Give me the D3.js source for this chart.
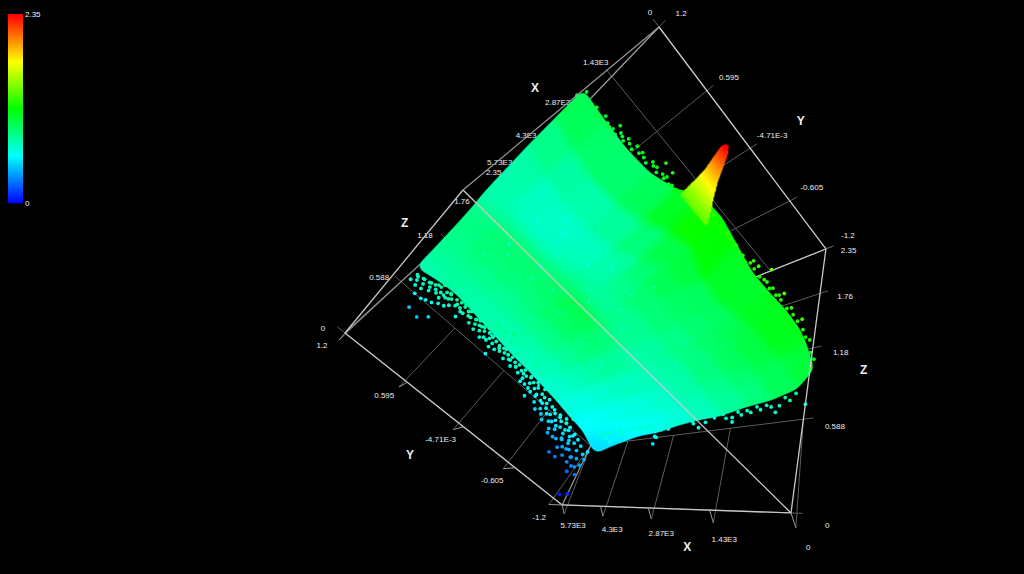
<!DOCTYPE html>
<html>
<head>
<meta charset="utf-8">
<script src="https://cdn.jsdelivr.net/npm/d3@7"></script>
<style>
  html, body { margin: 0; padding: 0; background: #000; }
  svg { display: block; }
  text { font-family: "Liberation Sans", Arial, sans-serif; }
</style>
</head>
<body>
<svg width="1024" height="574"></svg>
<script>
// axis ticks and their labels
const xTicks = [0, 1433, 2865, 4298, 5730];
const xTickLabels = ["0", "1.43E3", "2.87E3", "4.3E3", "5.73E3"];
const yTicks = [1.2, 0.595, -0.00471, -0.605, -1.2];
const yTickLabels = ["1.2", "0.595", "-4.71E-3", "-0.605", "-1.2"];
const zTicks = [0, 0.588, 1.18, 1.76, 2.35];
const zTickLabels = ["0", "0.588", "1.18", "1.76", "2.35"];

// height samples of the surface, one row per x, one column per y
const gridX = [-40, 478, 955, 1433, 1910, 2388, 2865, 3343, 3820, 4298, 4775, 5253, 5550];
const gridY = [1.2, 1.0, 0.8, 0.6, 0.4, 0.2, 0, -0.2, -0.4, -0.6, -0.8, -1.0, -1.1];
// where each row of the solid cloud ends on the low y side
const rowEndY = [-1.22, -1.36, -1.34, -1.3, -1.26, -1.22, -1.2, -1.18, -1.16, -1.16, -1.16, -1.18, -1.2];
const gridZ = [
  [1.05, 1.02, 1.0, 1.02, 1.12, 1.3, 1.32, 1.25, 1.18, 1.18, 1.2, 1.18, 1.12, 1.0],
  [0.96, 0.88, 0.84, 0.85, 0.92, 1.05, 1.12, 0.98, 0.95, 1.0, 1.05, 1.05, 1.06, 0.98],
  [0.85, 0.76, 0.72, 0.72, 0.76, 0.86, 1.02, 1.0, 0.92, 0.94, 1.0, 0.98, 0.95, 0.9],
  [0.82, 0.74, 0.7, 0.72, 0.74, 0.8, 0.94, 0.98, 0.9, 0.9, 0.94, 0.92, 0.88, 0.84],
  [0.78, 0.76, 0.72, 0.74, 0.78, 0.8, 0.84, 0.88, 0.84, 0.82, 0.85, 0.82, 0.78, 0.76],
  [0.78, 0.8, 0.8, 0.8, 0.84, 0.84, 0.82, 0.84, 0.8, 0.76, 0.76, 0.72, 0.7, 0.72],
  [0.84, 0.88, 0.9, 0.9, 0.9, 0.92, 0.92, 0.88, 0.82, 0.76, 0.7, 0.66, 0.62, 0.68],
  [0.86, 0.9, 0.92, 0.92, 0.92, 0.98, 1.02, 0.95, 0.88, 0.78, 0.7, 0.64, 0.6, 0.62],
  [0.86, 0.9, 0.92, 0.9, 0.9, 0.95, 1.0, 0.95, 0.86, 0.76, 0.68, 0.62, 0.58, 0.6],
  [0.84, 0.88, 0.88, 0.86, 0.86, 0.88, 0.92, 0.9, 0.8, 0.72, 0.66, 0.6, 0.56, 0.56],
  [0.82, 0.85, 0.84, 0.8, 0.8, 0.82, 0.84, 0.82, 0.76, 0.7, 0.62, 0.56, 0.54, 0.52],
  [0.78, 0.8, 0.78, 0.76, 0.76, 0.76, 0.74, 0.72, 0.7, 0.68, 0.62, 0.56, 0.52, 0.48],
  [0.74, 0.78, 0.8, 0.78, 0.76, 0.74, 0.72, 0.71, 0.69, 0.67, 0.64, 0.62, 0.58, 0.54],
];

// the spike near x = 400: one list of y per height
const peakX = 400;
const peakZ = [1.41, 1.47, 1.53, 1.59, 1.645, 1.7, 1.76, 1.82, 1.88, 1.94, 2.0, 2.06, 2.115, 2.17, 2.23, 2.29, 2.35];
const peakY = [
  [-0.01, 0.03, 0.065, 0.1, 0.135, 0.17, 0.205, 0.25],
  [0, 0.035, 0.07, 0.105, 0.135, 0.17, 0.205, 0.24],
  [0.01, 0.045, 0.08, 0.12, 0.16, 0.195, 0.23],
  [0.02, 0.055, 0.09, 0.12, 0.15, 0.185, 0.22],
  [0.033, 0.07, 0.105, 0.135, 0.17, 0.207],
  [0.042, 0.08, 0.12, 0.16, 0.198],
  [0.05, 0.085, 0.12, 0.155, 0.19],
  [0.06, 0.09, 0.12, 0.15, 0.18],
  [0.068, 0.1, 0.14, 0.172],
  [0.072, 0.105, 0.135, 0.168],
  [0.077, 0.12, 0.163],
  [0.081, 0.12, 0.159],
  [0.085, 0.12, 0.155],
  [0.09, 0.12, 0.15],
  [0.094, 0.146],
  [0.1, 0.14],
  [0.12],
];

// stray points along x = 5730 (low side of the cloud)
const farY = [1.161, 1.1, 1.134, 1.045, 1.079, 0.986, 1.016, 0.927, 0.957, 0.867, 0.918, 1.052, 0.986, 0.948, 1.003, 0.9, 0.831, 0.897, 0.85, 0.8, 0.813, 0.828, 0.726, 0.656, 0.743, 0.661, 0.659,
  0.576, 0.598, 0.492, 0.414, 0.463, 0.432, 0.35, 0.306, 0.268, 0.302, 0.185, 0.206, 0.16, 0.096, 0.101, 0.119, 0.372, 0.249, 0.231,
  0.003, -0.08, -0.026, -0.184, -0.197, -0.142, -0.268, -0.301, -0.314, -0.234, -0.359, -0.408, -0.325, -0.458, -0.507, -0.554, -0.475,
  -0.605, -0.556, -0.542, -0.691, -0.658, -0.625, -0.715, -0.712, -0.778, -0.753, -0.749, -0.82, -0.786, -0.875, -0.87, -0.862, -0.898, -0.888, -0.961, -0.968, -0.954, -0.969, -0.822, -0.901, -1.039, -1.05, -1.086, -1.101, -1.178, -1.124, -1.2,
  1.15, 1.12, 1.09, 1.06, 1.03, 1.0, 0.98, 0.95, 0.93, 0.9, 0.88, 0.86, 0.84, 0.82, 0.79, 0.77, 0.75, 0.72, 0.7, 0.68, 0.65, 0.63, 0.6, 0.58, 0.55, 0.53, 0.5, 0.48, 0.46, 0.44, 0.41, 0.39, 0.37, 0.34, 0.32, 0.29, 0.27, 0.24, 0.22, 0.19, 0.17, 0.14, 0.12, 0.09, 0.07, 0.05, 0.02, 0,
  -0.03, -0.05, -0.08, -0.1, -0.13, -0.15, -0.18, -0.2, -0.22, -0.25, -0.27, -0.29, -0.32, -0.34, -0.36, -0.39, -0.41, -0.43, -0.46, -0.48, -0.5, -0.52, -0.55, -0.57, -0.59, -0.62, -0.64, -0.66, -0.68, -0.7, -0.72, -0.74, -0.76, -0.78, -0.8, -0.82, -0.84, -0.86, -0.88, -0.9, -0.92, -0.94, -0.96, -0.98, -1.0, -1.02, -1.04, -1.06, -1.08, -1.1, -1.12, -1.14, -1.16, -1.18, -1.2, -1.2];
const farZ = [0.658, 0.647, 0.719, 0.657, 0.742, 0.688, 0.759, 0.718, 0.79, 0.748, 0.828, 0.588, 0.59, 0.608, 0.466, 0.445, 0.51, 0.625, 0.658, 0.675, 0.752, 0.808, 0.746, 0.735, 0.858, 0.825, 0.672,
  0.756, 0.841, 0.786, 0.766, 0.693, 0.837, 0.804, 0.696, 0.791, 0.877, 0.82, 0.884, 0.721, 0.759, 0.85, 0.92, 0.674, 0.664, 0.594,
  0.704, 0.691, 0.806, 0.69, 0.613, 0.784, 0.72, 0.613, 0.535, 0.806, 0.72, 0.6, 0.806, 0.713, 0.593, 0.506, 0.504,
  0.543, 0.666, 0.743, 0.517, 0.623, 0.73, 0.71, 0.411, 0.413, 0.513, 0.603, 0.633, 0.719, 0.366, 0.456, 0.54, 0.593, 0.677, 0.339, 0.408, 0.486, 0.546, 0.286, 0.287, 0.319, 0.374, 0.253, 0.315, 0.275, 0.056, 0.103,
  0.73, 0.69, 0.74, 0.7, 0.75, 0.72, 0.77, 0.74, 0.79, 0.75, 0.7, 0.79, 0.74, 0.8, 0.77, 0.71, 0.8, 0.77, 0.81, 0.76, 0.8, 0.74, 0.79, 0.81, 0.76, 0.71, 0.78, 0.74, 0.8, 0.76, 0.72, 0.78, 0.75, 0.7, 0.77, 0.73, 0.76, 0.71, 0.75, 0.68, 0.74, 0.7, 0.75, 0.72, 0.67, 0.73, 0.7, 0.74,
  0.66, 0.72, 0.69, 0.73, 0.66, 0.7, 0.73, 0.65, 0.69, 0.62, 0.71, 0.66, 0.69, 0.6, 0.65, 0.68, 0.62, 0.55, 0.66, 0.6, 0.65, 0.54, 0.62, 0.58, 0.47, 0.63, 0.56, 0.5, 0.6, 0.45, 0.55, 0.62, 0.48, 0.58, 0.53, 0.42, 0.6, 0.5, 0.45, 0.56, 0.4, 0.52, 0.46, 0.57, 0.42, 0.5, 0.55, 0.38, 0.46, 0.52, 0.4, 0.33, 0.47, 0.37, 0.44, 0.52];

// stray points along y = -1.2
const lowX = [5215, 4985, 5145, 4527, 4068, 3782, 3438, 3410, 3380, 3094, 2464, 2407, 2235, 2091, 1891, 1458, 1432, 1260, 1060, 860, 544, 487, 298, 0,
  5500, 5300, 4800, 4650, 4300, 4000, 3700, 3550, 3300, 3200, 3000, 2800, 2600, 2300, 2150, 1950, 1700, 1600, 1350, 1150, 950, 750, 650, 400, 200];
const lowZ = [0.65, 0.605, 0.7, 0.7, 0.7, 0.7, 0.6, 0.53, 0.59, 0.657, 0.7, 0.675, 0.63, 0.67, 0.7, 0.68, 0.64, 0.69, 0.7, 0.71, 0.67, 0.72, 0.75, 0.7,
  0.72, 0.68, 0.72, 0.68, 0.72, 0.72, 0.72, 0.68, 0.66, 0.7, 0.72, 0.72, 0.72, 0.72, 0.72, 0.74, 0.72, 0.68, 0.72, 0.72, 0.74, 0.74, 0.72, 0.78, 0.8];

// stray points along x = 0
const nearY = [1.2, 1.18, 1.08, 1.04, 1.01, 0.974, 0.953, 0.912, 0.88, 0.823, 0.754, 0.704, 0.617, 0.576, 0.542, 0.468, 0.486, 0.427, 0.384, 0.343,
  0.184, 0.128, 0.056, -0.028, -0.108, -0.15, -0.21, -0.295, -0.404, -0.464, -0.596, -0.582, -0.653, -0.781, -0.733, -0.888, -1.028, -1.056, -1.152, -1.229,
  1.14, 1.1, 1.06, 1.0, 0.97, 0.93, 0.9, 0.86, 0.84, 0.8, 0.77, 0.72, 0.68, 0.65, 0.6, 0.56, 0.52, 0.5, 0.45, 0.4,
  0.3, 0.25, 0.2, 0.1, 0.02, -0.05, -0.12, -0.18, -0.25, -0.33, -0.38, -0.43, -0.5, -0.55, -0.62, -0.7, -0.76, -0.84, -0.92, -0.98, -1.1, -1.18];
const nearZ = [0.997, 1.086, 1.065, 1.03, 1.077, 1.045, 1.035, 1.125, 1.083, 1.105, 1.124, 1.124, 1.143, 1.141, 1.245, 1.233, 1.155, 1.139, 1.146, 1.182,
  1.365, 1.323, 1.288, 1.255, 1.283, 1.26, 1.264, 1.249, 1.309, 1.314, 1.419, 1.269, 1.276, 1.347, 1.283, 1.3, 1.314, 1.234, 1.217, 1.1,
  1.0, 1.03, 1.0, 1.02, 1.0, 1.05, 1.03, 1.07, 1.05, 1.08, 1.06, 1.09, 1.1, 1.08, 1.12, 1.1, 1.14, 1.12, 1.12, 1.12,
  1.19, 1.25, 1.3, 1.28, 1.25, 1.23, 1.24, 1.22, 1.23, 1.22, 1.26, 1.25, 1.24, 1.26, 1.24, 1.25, 1.26, 1.25, 1.26, 1.25, 1.2, 1.12];

// cyan speckles inside the cloud
const speckX = [800, 1000, 1300, 1500, 1150, 1700, 900, 1350, 1600, 1900, 1100, 1450, 750, 600, 1750, 2100, 2300, 2600, 2500, 2800, 3000, 3400, 3800, 3100, 2600, 2900, 2200, 1800, 1500, 1100, 3500, 4100, 4400, 4700, 4300, 3900, 3400, 4600, 5000, 5200];
const speckY = [0.75, 0.7, 0.85, 0.6, 0.45, 0.5, 0.35, 0.25, 0.3, 0.2, 0.1, 0.05, 0.05, 0.3, -0.1, 0.6, 0.85, 0.8, 0.4, 0.55, 0.2, -0.1, -0.3, -0.35, -0.5, -0.7, -0.8, -0.7, -0.55, -0.45, -0.6, -0.6, -0.25, 0, 0.45, 0.7, 0.9, 0.8, 0.35, -0.3];
const speckZ = [0.6, 0.58, 0.6, 0.6, 0.6, 0.62, 0.64, 0.66, 0.6, 0.64, 0.66, 0.64, 0.72, 0.7, 0.64, 0.64, 0.64, 0.66, 0.68, 0.7, 0.72, 0.74, 0.68, 0.66, 0.6, 0.58, 0.6, 0.66, 0.68, 0.74, 0.6, 0.58, 0.7, 0.68, 0.72, 0.74, 0.74, 0.66, 0.62, 0.6];

const svg = d3.select("svg");

// data -> unit box
const uScale = d3.scaleLinear().domain([0, 5730]).range([0, 1]);
const vScale = d3.scaleLinear().domain([1.2, -1.2]).range([0, 1]);
const wScale = d3.scaleLinear().domain([0, 2.35]).range([0, 1]);

const zColor = d3.scaleLinear()
  .domain([0, 0.588, 1.18, 1.76, 2.35])
  .range(["#0000ff", "#00ffff", "#00ff00", "#ffff00", "#ff0000"])
  .clamp(true);

// perspective of the box, fitted on its corners
const projectUnit = (u, v, w) => {
  const d = 1 + 0.895 * u + 0.365 * v + 0.889 * w;
  return [
    (463 + 190.8 * u + 616.7 * v + 781.9 * w) / d,
    (190 + 441 * u + 510.2 * v - 139 * w) / d,
  ];
};
const project = (x, y, z) => projectUnit(uScale(x), vScale(y), wScale(z));

const drawSegment = (g, a, b, stroke, width) => {
  g.append("line")
    .attr("x1", a[0]).attr("y1", a[1])
    .attr("x2", b[0]).attr("y2", b[1])
    .attr("stroke", stroke)
    .attr("stroke-width", width);
};

const drawLabel = (g, p, dx, dy, str, size, weight) => {
  g.append("text")
    .attr("x", p[0] + dx)
    .attr("y", p[1] + dy)
    .attr("text-anchor", "middle")
    .attr("dominant-baseline", "central")
    .attr("fill", "#eeeeee")
    .attr("font-size", size)
    .attr("font-weight", weight)
    .text(str);
};

const gridColor = "#5c5c5c";
const backColor = "#9a9a9a";
const frameColor = "#c8c8c8";

const drawBack = () => {
  const g = svg.append("g");

  // grid on the top face
  yTicks.forEach((y) => {
    const v = vScale(y);
    drawSegment(g, projectUnit(-0.03, v, 1), projectUnit(1, v, 1), gridColor, 1);
  });
  xTicks.forEach((x) => {
    const u = uScale(x);
    drawSegment(g, projectUnit(u, -0.03, 1), projectUnit(u, 1, 1), gridColor, 1);
  });

  // grid on the two walls, it disappears behind the cloud above the first z tick
  const wallTop = wScale(zTicks[1]);
  yTicks.forEach((y) => {
    const v = vScale(y);
    drawSegment(g, projectUnit(1.1, v, 0), projectUnit(1, v, wallTop), gridColor, 1);
  });
  xTicks.forEach((x) => {
    const u = uScale(x);
    drawSegment(g, projectUnit(u, 1.025, -0.02), projectUnit(u, 1, wallTop), gridColor, 1);
  });
  zTicks.forEach((z) => {
    const w = wScale(z);
    drawSegment(g, projectUnit(1, -0.03, w), projectUnit(1, 1, w), gridColor, 1);
    drawSegment(g, projectUnit(-0.03, 1, w), projectUnit(1, 1, w), gridColor, 1);
  });

  // hidden edges of the box
  drawSegment(g, projectUnit(1, 0, 0), projectUnit(1, 0, 1), backColor, 1.2);
  drawSegment(g, projectUnit(0, 0, 1), projectUnit(1, 0, 1), backColor, 1.2);
  drawSegment(g, projectUnit(1, 0, 1), projectUnit(1, 1, 1), backColor, 1.2);
  drawSegment(g, projectUnit(1, 1, 0), projectUnit(1, 1, 1), backColor, 1.2);
  drawSegment(g, projectUnit(0, 1, 1), projectUnit(1, 1, 1), frameColor, 1.2);

  // tick labels
  xTicks.forEach((x, i) => {
    const u = uScale(x);
    drawLabel(g, projectUnit(u, 0, 1), i === 0 ? -9 : -16, -14, xTickLabels[i], 8, "normal");
    drawLabel(g, projectUnit(u, 1.05, -0.05), 8, 0, xTickLabels[i], 8, "normal");
  });
  yTicks.forEach((y, i) => {
    const v = vScale(y);
    drawLabel(g, projectUnit(0, v, 1), 22, -13, yTickLabels[i], 8, "normal");
    drawLabel(g, projectUnit(1, v, 0), -23, 13, yTickLabels[i], 8, "normal");
  });
  zTicks.forEach((z, i) => {
    const w = wScale(z);
    drawLabel(g, projectUnit(1, 0, w), -22, -4, zTickLabels[i], 8, "normal");
    drawLabel(g, projectUnit(-0.09, 1, w), 0, 11, zTickLabels[i], 8, "normal");
  });

  // axis titles
  drawLabel(g, projectUnit(0.5, 0, 1), -38.6, -28, "X", 12, "bold");
  drawLabel(g, projectUnit(0.5, 1, 0), 39, 39, "X", 12, "bold");
  drawLabel(g, projectUnit(0, 0.5, 1), 51, -27, "Y", 12, "bold");
  drawLabel(g, projectUnit(1, 0.5, 0), -53, 28, "Y", 12, "bold");
  drawLabel(g, projectUnit(1, 0, 0.5), -42, -17, "Z", 12, "bold");
  drawLabel(g, projectUnit(0, 1, 0.5), 51, 21, "Z", 12, "bold");
};

const addSoftFilter = (id, blur, slope, intercept) => {
  const filter = svg.append("defs").append("filter")
    .attr("id", id)
    .attr("filterUnits", "userSpaceOnUse")
    .attr("x", 0).attr("y", 0)
    .attr("width", 1024).attr("height", 574)
    .attr("color-interpolation-filters", "sRGB");
  filter.append("feGaussianBlur").attr("stdDeviation", blur);
  filter.append("feComponentTransfer")
    .append("feFuncA")
    .attr("type", "linear")
    .attr("slope", slope)
    .attr("intercept", intercept);
};

const drawSurface = () => {
  addSoftFilter("soft", 4, 8, -3.5);

  const g = svg.append("g").attr("filter", "url(#soft)");
  const yAt = (i, j) => (j < gridY.length ? gridY[j] : rowEndY[i]);

  d3.range(gridX.length - 1).forEach((i) => {
    d3.range(gridY.length).forEach((j) => {
      const corners = [
        [i, j],
        [i + 1, j],
        [i + 1, j + 1],
        [i, j + 1],
      ];
      const pts = corners.map((c) => project(gridX[c[0]], yAt(c[0], c[1]), gridZ[c[0]][c[1]]));
      const fill = zColor(d3.mean(corners, (c) => gridZ[c[0]][c[1]]));
      g.append("polygon")
        .attr("points", pts.map((p) => p.join(",")).join(" "))
        .attr("fill", fill)
        .attr("stroke", fill)
        .attr("stroke-width", 1);
    });
  });
};

const drawPoints = (rows, radius, filterId) => {
  svg.append("g")
    .attr("filter", filterId ? "url(#" + filterId + ")" : null)
    .selectAll("circle")
    .data(rows)
    .enter()
    .append("circle")
    .attr("cx", (d) => project(d[0], d[1], d[2])[0])
    .attr("cy", (d) => project(d[0], d[1], d[2])[1])
    .attr("r", radius)
    .attr("fill", (d) => zColor(d[2]));
};

const drawFront = () => {
  const g = svg.append("g");
  const floor = [[0, 0], [1, 0], [1, 1], [0, 1], [0, 0]];
  d3.pairs(floor).forEach((e) => {
    drawSegment(g, projectUnit(e[0][0], e[0][1], 0), projectUnit(e[1][0], e[1][1], 0), frameColor, 1.3);
  });
  drawSegment(g, projectUnit(0, 0, 0), projectUnit(0, 0, 1), backColor, 1.2);
  drawSegment(g, projectUnit(0, 1, 0), projectUnit(0, 1, 1), frameColor, 1.3);
  drawSegment(g, projectUnit(0, 0, 1), projectUnit(0, 1, 1), frameColor, 1.3);

  // tick marks on the front edges
  xTicks.forEach((x) => {
    const u = uScale(x);
    drawSegment(g, projectUnit(u, 1, 0), projectUnit(u, 1.025, -0.02), backColor, 1);
  });
  yTicks.forEach((y) => {
    const v = vScale(y);
    drawSegment(g, projectUnit(1, v, 0), projectUnit(1.1, v, 0), backColor, 1);
  });
};

const drawColorBar = () => {
  const g = svg.append("g");
  const barScale = d3.scaleLinear().domain([0, 2.35]).range([203, 14]);
  g.selectAll("rect")
    .data(d3.range(0, 189))
    .enter()
    .append("rect")
    .attr("x", 8)
    .attr("y", (d) => 14 + d)
    .attr("width", 15)
    .attr("height", 1.2)
    .attr("fill", (d) => zColor(barScale.invert(14 + d)));
  [2.35, 0].forEach((z) => {
    g.append("text")
      .attr("x", 25)
      .attr("y", barScale(z))
      .attr("dominant-baseline", "central")
      .attr("fill", "#eeeeee")
      .attr("font-size", 8)
      .text(z === 0 ? zTickLabels[0] : zTickLabels[4]);
  });
};

drawBack();
drawSurface();
addSoftFilter("peakSoft", 1, 2, -0.4);

const speckRows = speckX.map((x, i) => [x, speckY[i], speckZ[i]]);
const farRows = farY.map((y, i) => [5730, y, farZ[i]]);
const lowRows = lowX.map((x, i) => [x, -1.2, lowZ[i]]);
const nearRows = nearY.map((y, i) => [0, y, nearZ[i]]);
const peakRows = peakZ.flatMap((z, i) => peakY[i].map((y) => [peakX, y, z]));

drawPoints(speckRows, 1.3);
drawPoints(farRows.concat(lowRows, nearRows), 1.9);
drawPoints(peakRows, 2.8, "peakSoft");
drawFront();
drawColorBar();
</script>
</body>
</html>
